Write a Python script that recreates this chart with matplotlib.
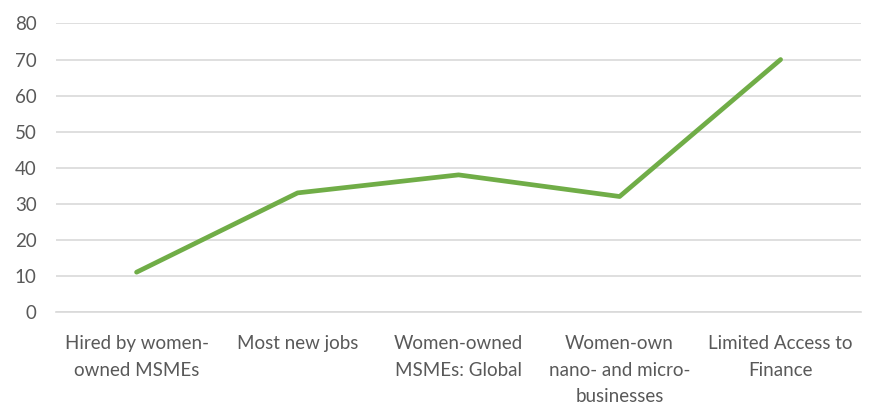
import matplotlib
matplotlib.use("Agg")
import matplotlib.pyplot as plt

categories = [
    "Hired by women-\nowned MSMEs",
    "Most new jobs",
    "Women-owned\nMSMEs: Global",
    "Women-own\nnano- and micro-\nbusinesses",
    "Limited Access to\nFinance",
]
values = [11, 33, 38, 32, 70]
y_ticks = [0, 10, 20, 30, 40, 50, 60, 70, 80]

plt.rcParams["font.family"] = ["Lato", "DejaVu Sans"]
text_color = "#595959"
grid_color = "#d9d9d9"

fig = plt.figure(figsize=(8.76, 4.05), dpi=100)
ax = fig.add_axes([0.064, 0.230, 0.919, 0.712])

x = list(range(len(categories)))
ax.plot(x, values, color="#70ad47", linewidth=3.4, solid_capstyle="round", zorder=3)

ax.set_xlim(-0.5, len(categories) - 0.5)
ax.set_ylim(0, 80)
ax.set_yticks(y_ticks)
ax.set_yticklabels([str(v) for v in y_ticks])
ax.set_xticks(x)
ax.set_xticklabels(categories, linespacing=1.65)

ax.grid(axis="y", color=grid_color, linewidth=1.2)
ax.set_axisbelow(True)
for side in ["top", "right", "left"]:
    ax.spines[side].set_visible(False)
ax.spines["bottom"].set_color(grid_color)
ax.spines["bottom"].set_linewidth(1.2)

ax.tick_params(axis="both", length=0, labelsize=13.5, colors=text_color)
ax.tick_params(axis="x", pad=17)
ax.tick_params(axis="y", pad=14)

fig.savefig("out.png", dpi=100)
